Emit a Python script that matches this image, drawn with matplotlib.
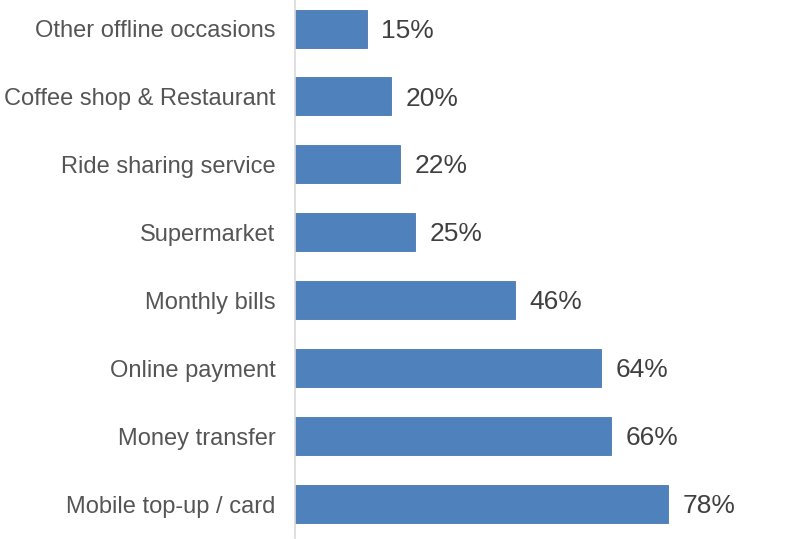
import matplotlib
matplotlib.use("Agg")
import matplotlib.pyplot as plt

categories = ["Mobile top-up / card", "Money transfer", "Online payment", "Monthly bills",
              "Supermarket", "Ride sharing service", "Coffee shop & Restaurant",
              "Other offline occasions"]
values = [78, 66, 64, 46, 25, 22, 20, 15]

plt.rcParams['font.family'] = ['Liberation Sans', 'DejaVu Sans']

fig = plt.figure(figsize=(8, 5.39), dpi=100)
ax = fig.add_axes([295/800, 0, 505/800, 1])
pos = list(range(len(categories)))
ax.barh(pos, values, height=0.56, color='#4f81bd', edgecolor='#4a78b0', linewidth=0.6)
ax.set_xlim(0, 105.6)
ax.set_ylim(-0.515, 7.42)
ax.set_yticks(pos)
ax.set_yticklabels(categories, fontsize=17, color='#555555')
ax.tick_params(axis='y', length=0, pad=14)
ax.set_xticks([])
for s in ['top', 'right', 'bottom']:
    ax.spines[s].set_visible(False)
ax.spines['left'].set_color('#d9d9d9')
ax.spines['left'].set_linewidth(1.2)
ax.spines['left'].set_bounds(-0.5, 7.42)
for p, v in zip(pos, values):
    ax.annotate(f"{v}%", (v, p), xytext=(10.5, -1.5), textcoords='offset points',
                va='center', ha='left', fontsize=19, color='#404040')
fig.savefig("out.png", dpi=100)
